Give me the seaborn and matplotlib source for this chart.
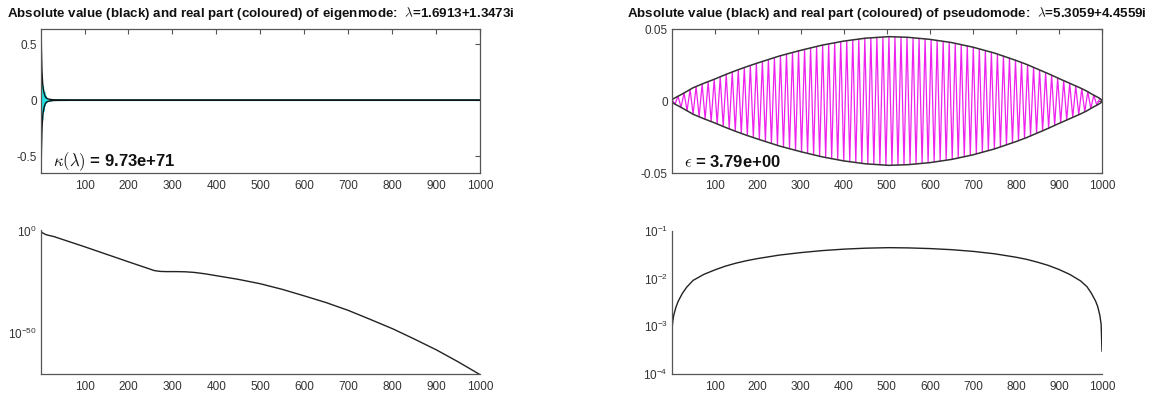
import numpy as np
import matplotlib
matplotlib.use("Agg")
import matplotlib.pyplot as plt
import matplotlib.ticker as mticker
import seaborn as sns

# ---------------- data ----------------
# Eigenmode: log10 of |v(x)| at sampled x
eig_x = [1, 2, 3, 4, 5, 6, 8, 11, 15, 20, 30, 100, 200, 259, 272, 286, 310, 330, 350, 375, 400,
         450, 499, 550, 597, 650, 700, 750, 802, 850, 901, 950, 1000]
eig_logabs = [-0.15, -0.35, -0.55, -0.70, -0.85, -0.97, -1.2, -1.55, -1.85, -2.1, -2.6,
              -7.6, -15.0, -19.3, -19.7, -19.8, -19.8, -19.9, -20.2, -20.9, -21.8,
              -23.6, -25.7, -28.5, -31.5, -35.0, -38.8, -43.2, -47.9, -52.8, -58.2, -64.0, -70.3]
# Eigenmode: real part (cyan) near the left edge, then ~0
eig_re_x = [1, 2, 3, 4, 5, 6, 7, 8, 9, 10, 11, 12, 13, 14, 15, 16, 30, 1000]
eig_re = [-0.70, 0.12, 0.20, -0.18, 0.02, 0.12, -0.10, 0.01, 0.07, -0.05, 0.0, 0.035,
          -0.025, 0.0, 0.015, -0.01, 0.0, 0.0]

# Pseudomode: |v(x)| envelope
ps_x = [1, 3, 5, 10, 15, 25, 35, 50, 75, 100, 125, 150, 175, 200, 250, 300, 350, 400, 450,
        505, 550, 600, 650, 700, 750, 800, 825, 850, 875, 900, 925, 950, 965, 975, 985,
        990, 995, 998, 1000]
ps_abs = [0.0009, 0.0013, 0.0017, 0.0025, 0.0033, 0.0049, 0.0066, 0.0092, 0.0123, 0.0152,
          0.0183, 0.0212, 0.0239, 0.0264, 0.0312, 0.0352, 0.0388, 0.0416, 0.0436,
          0.0447, 0.0442, 0.0428, 0.0406, 0.0374, 0.0333, 0.0282, 0.0254, 0.0222, 0.0190,
          0.0156, 0.0123, 0.0090, 0.0068, 0.0050, 0.0034, 0.0026, 0.0017, 0.0011, 0.0003]
ps_period = 14.0   # oscillation wavelength of the real part

eig_title = r"Absolute value (black) and real part (coloured) of eigenmode:  $\lambda$=1.6913+1.3473i"
ps_title = r"Absolute value (black) and real part (coloured) of pseudomode:  $\lambda$=5.3059+4.4559i"
eig_note = "= 9.73e+71"
ps_note = "= 3.79e+00"

# ---------------- style ----------------
sns.set_theme(style="white")
plt.rcParams["font.family"] = ["Liberation Sans", "DejaVu Sans"]
plt.rcParams["mathtext.fontset"] = "cm"
lab = "#333333"

fig = plt.figure(figsize=(11.54, 3.97), dpi=100)
W, H = 1154, 397
def box(l, r, t, b):
    return [l / W, 1 - b / H, (r - l) / W, (b - t) / H]

ax_tl = fig.add_axes(box(41, 480, 29, 173))
ax_tr = fig.add_axes(box(672, 1102, 29, 173))
ax_bl = fig.add_axes(box(41, 480, 230, 374))
ax_br = fig.add_axes(box(672, 1102, 231, 374))

# derived series
eig_abs = 10.0 ** np.array(eig_logabs)
half = ps_period / 2
crest_x = np.arange(1, 1000 + 1e-9, half)
if crest_x[-1] < 1000:
    crest_x = np.append(crest_x, 1000)
crest_env = np.interp(crest_x, ps_x, ps_abs)
signs = np.where(np.arange(len(crest_x)) % 2 == 0, 1.0, -1.0)
crest_re = crest_env * signs

# ---------- top-left: eigenmode ----------
sns.lineplot(x=eig_re_x, y=eig_re, ax=ax_tl, color="#22e0e0", lw=1.3, sort=False)
sns.lineplot(x=eig_x, y=eig_abs, ax=ax_tl, color="#111111", lw=1.0, sort=False)
sns.lineplot(x=eig_x, y=-eig_abs, ax=ax_tl, color="#111111", lw=1.0, sort=False)
ax_tl.set_xlim(1, 1000)
ax_tl.set_ylim(-0.65, 0.635)
ax_tl.set_yticks([-0.5, 0, 0.5])
ax_tl.set_yticklabels(["-0.5", "0", "0.5"])

# ---------- top-right: pseudomode ----------
sns.lineplot(x=crest_x, y=crest_re, ax=ax_tr, color="#ee22ee", lw=0.9, sort=False)
sns.lineplot(x=ps_x, y=ps_abs, ax=ax_tr, color="#333333", lw=1.1, sort=False)
sns.lineplot(x=ps_x, y=-np.array(ps_abs), ax=ax_tr, color="#333333", lw=1.1, sort=False)
ax_tr.set_xlim(1, 1000)
ax_tr.set_ylim(-0.05, 0.05)
ax_tr.set_yticks([-0.05, 0, 0.05])
ax_tr.set_yticklabels(["-0.05", "0", "0.05"])

# ---------- bottom-left: log |eigenmode| ----------
sns.lineplot(x=eig_x, y=eig_abs, ax=ax_bl, color="#222222", lw=1.0, sort=False)
ax_bl.set_yscale("log")
ax_bl.set_xlim(1, 1000)
ax_bl.set_ylim(1e-70, 10 ** 0.6)
ax_bl.yaxis.set_major_locator(mticker.FixedLocator([1e-50, 1e0]))
ax_bl.yaxis.set_minor_locator(mticker.FixedLocator([10.0 ** k for k in (-10, -20, -30, -40, -60)]))
ax_bl.yaxis.set_major_formatter(mticker.FixedFormatter([r"$\mathdefault{10^{-50}}$", r"$\mathdefault{10^{0}}$"]))
ax_bl.yaxis.set_minor_formatter(mticker.NullFormatter())

# ---------- bottom-right: log |pseudomode| ----------
sns.lineplot(x=ps_x, y=ps_abs, ax=ax_br, color="#222222", lw=1.0, sort=False)
ax_br.set_yscale("log")
ax_br.set_xlim(1, 1000)
ax_br.set_ylim(1e-4, 1e-1)
ax_br.yaxis.set_major_locator(mticker.FixedLocator([1e-4, 1e-3, 1e-2, 1e-1]))
ax_br.yaxis.set_major_formatter(mticker.FixedFormatter(
    [r"$\mathdefault{10^{-4}}$", r"$\mathdefault{10^{-3}}$", r"$\mathdefault{10^{-2}}$", r"$\mathdefault{10^{-1}}$"]))
ax_br.yaxis.set_minor_locator(mticker.LogLocator(base=10, subs=np.arange(2, 10)))
ax_br.yaxis.set_minor_formatter(mticker.NullFormatter())

# ---------- common axis styling ----------
for ax in (ax_tl, ax_tr, ax_bl, ax_br):
    ax.set_xticks(np.arange(100, 1001, 100))
    ax.set_xlabel("")
    ax.set_ylabel("")
    ax.set_facecolor("white")
    ax.grid(False)
    for sp in ax.spines.values():
        sp.set_color("#555555")
        sp.set_linewidth(0.9)
    ax.tick_params(axis="both", which="both", direction="in", colors="#555555",
                   labelcolor=lab, labelsize=8.5, length=3.5, width=0.8)
    ax.tick_params(axis="x", pad=5)
    ax.tick_params(axis="y", pad=3)
    ax.tick_params(axis="y", which="minor", length=2.5)

for ax in (ax_tl, ax_tr):
    ax.tick_params(axis="both", which="both", top=True, right=True)

for ax in (ax_bl, ax_br):
    ax.spines["top"].set_visible(False)
    ax.spines["right"].set_visible(False)

ax_tl.set_title(eig_title, fontsize=9.6, fontweight="bold", color="#111111", pad=9)
ax_tr.set_title(ps_title, fontsize=9.6, fontweight="bold", color="#111111", pad=9)

ax_tl.text(0.028, 0.045, r"$\kappa(\lambda)$ " + eig_note, transform=ax_tl.transAxes,
           fontsize=12, fontweight="bold", color="#111111", ha="left", va="baseline")
ax_tr.text(0.028, 0.045, r"$\epsilon$ " + ps_note, transform=ax_tr.transAxes,
           fontsize=12, fontweight="bold", color="#111111", ha="left", va="baseline")

fig.savefig("out.png", dpi=100, facecolor="white")
